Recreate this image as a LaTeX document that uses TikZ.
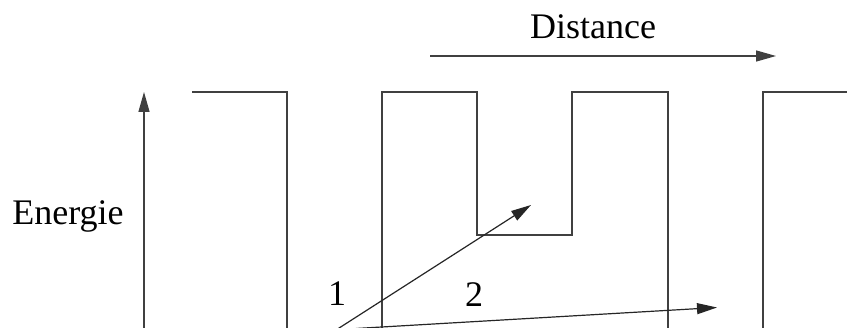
\documentclass[tikz,border=0pt]{standalone}
\usepackage{fontspec}
\setmainfont{Liberation Serif}
\usetikzlibrary{arrows.meta}
\begin{document}
\begin{tikzpicture}[x=1pt,y=-1pt,
  wall/.style={line width=1.3pt,draw=black!75,line join=miter},
  axis/.style={line width=1.3pt,draw=black!75,-{Triangle[length=20pt,width=11pt]}},
  path1/.style={line width=1.2pt,draw=black!85,-{Triangle[length=20pt,width=11pt]}},
  lbl/.style={font=\fontsize{36}{40}\selectfont,inner sep=0pt,anchor=base}]
\useasboundingbox (0,0) rectangle (847,328);
% potential landscape
\draw[wall] (192,92) -- (287,92) -- (287,335);
\draw[wall] (382,335) -- (382,92) -- (477,92) -- (477,235) -- (572,235) -- (572,92) -- (668,92) -- (668,335);
\draw[wall] (763,335) -- (763,92) -- (850,92);
% axes
\coordinate (eS) at (144,335);
\coordinate (eT) at (144,92);
\draw[axis] (eS) -- (eT);
\coordinate (dS) at (430,56);
\coordinate (dT) at (776,56);
\draw[axis] (dS) -- (dT);
\node[lbl] (dist) at (593,39) {Distance};
\node[lbl] (ener) at (68,225) {Energie};
% trajectories
\coordinate (aS) at (336,330);
\coordinate (aT) at (531,205);
\draw[path1] (aS) -- (aT);
\coordinate (bS) at (356,328.5);
\coordinate (bT) at (717,307.5);
\draw[path1] (bS) -- (bT);
\node[lbl] (n1) at (337,306) {1};
\node[lbl] (n2) at (474,307) {2};
\end{tikzpicture}
\end{document}
